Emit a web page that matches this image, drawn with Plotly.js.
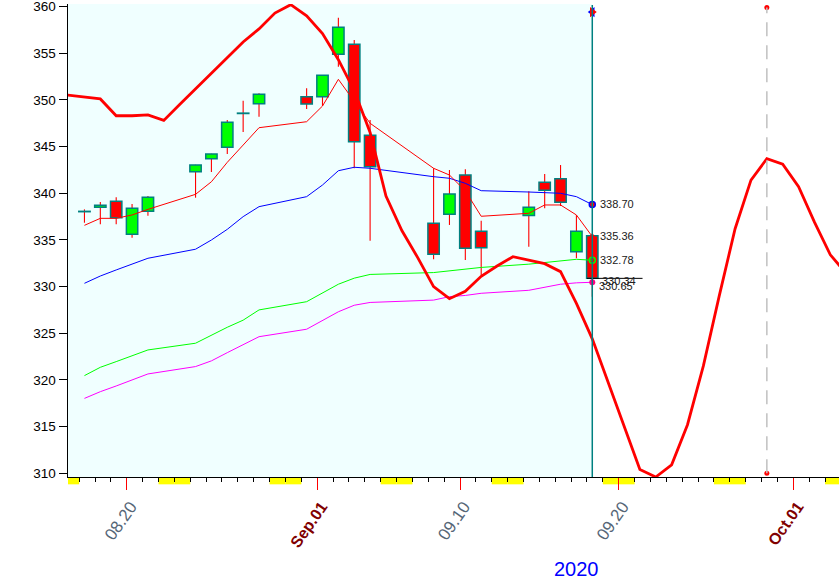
<!DOCTYPE html>
<html><head><meta charset="utf-8">
<script src="https://cdn.plot.ly/plotly-3.0.1.min.js"></script>
<style>html,body{margin:0;padding:0;background:#fff}#chart{width:839px;height:580px}</style>
</head><body><div id="chart"></div>
<script>
// ---- data ----
const tradeDates = ['2020-08-17','2020-08-18','2020-08-19','2020-08-20','2020-08-21','2020-08-24','2020-08-25','2020-08-26','2020-08-27','2020-08-28','2020-08-31','2020-09-01','2020-09-02','2020-09-03','2020-09-04','2020-09-08','2020-09-09','2020-09-10','2020-09-11','2020-09-14','2020-09-15','2020-09-16','2020-09-17','2020-09-18'];
const opens  = [338.06,338.49,339.13,335.60,338.06,342.30,343.70,344.92,348.58,349.59,350.34,350.34,354.88,355.95,346.20,336.78,337.74,341.95,335.92,337.60,341.17,341.56,333.73,335.45];
const highs  = [338.27,339.06,339.56,338.85,339.70,343.05,344.22,347.84,349.91,350.70,351.24,352.65,358.80,356.41,347.84,342.67,342.49,342.56,337.06,340.20,342.06,343.02,337.67,335.60];
const lows   = [336.84,336.67,336.67,335.24,337.59,339.52,342.27,344.20,346.56,348.20,349.02,349.34,353.55,342.67,334.91,332.92,336.60,332.85,331.24,334.27,338.38,338.63,333.03,328.90];
const closes = [338.02,338.70,337.38,338.38,339.56,343.02,344.20,347.60,348.54,350.60,349.56,352.63,357.77,345.52,342.84,333.46,339.92,334.10,334.16,338.49,340.31,339.03,335.92,330.88];
const maRed     = [336.56,337.31,337.31,337.67,338.27,339.88,341.23,343.31,345.16,347.02,347.66,349.34,352.20,349.85,347.49,342.67,341.95,340.25,337.53,337.85,338.74,338.74,337.67,335.36];
const maBlue    = [330.35,331.13,331.78,332.42,333.03,334.00,334.99,336.13,337.49,338.56,339.63,340.88,342.41,342.78,342.67,341.77,341.60,341.06,340.27,340.13,340.06,339.99,339.63,338.78];
const maGreen   = [320.46,321.35,321.96,322.60,323.21,323.93,324.81,325.64,326.40,327.50,328.38,329.30,330.25,330.90,331.30,331.50,331.70,331.85,332.05,332.40,332.60,332.80,332.92,332.82];
const maMagenta = [318.02,318.74,319.35,320.00,320.64,321.43,322.04,322.92,323.74,324.63,325.43,326.40,327.30,328.00,328.30,328.55,328.92,329.05,329.28,329.60,329.95,330.25,330.40,330.46];
const cycleStart = '2020-08-15';
const cycleValues = [350.7,350.5,350.3,350.1,348.3,348.3,348.4,347.8,349.5,351.2,352.9,354.6,356.2,357.6,359.3,360.2,359.0,
  357.1,354.3,351.0,346.5,339.7,336.0,333.1,330.0,328.7,329.5,331.1,332.2,333.2,332.85,332.45,331.6,328.2,324.4,319.7,315.2,310.4,309.6,310.9,315.2,321.5,329.0,336.2,341.4,343.7,343.1,
  340.7,336.9,333.4,331.4];
const endLabels = ['338.70','335.36','332.78','330.34','330.65'];
const endLabelShift = [1, 1, 1, 2, -5];
const endLabelXShift = [6, 6, 6, 8, 5];
const tickDates  = ['2020-08-20','2020-09-01','2020-09-10','2020-09-20','2020-10-01'];
const tickLabels = ['08.20','Sep.01','09.10','09.20','Oct.01'];
const monthStart = [false,true,false,false,true];
const yearLabel = '2020';
const currentDate = '2020-09-18';
const cycleTopDate = '2020-09-29';
const xStart = '2020-08-16 07:07:00', xEnd = '2020-10-03 21:07:00';
const yMin = 309.6, yMax = 360.27;

// ---- helpers ----
const DAY = 86400000, OFF = DAY/3;
const toMs = d => Date.parse(d + 'T00:00:00Z');
const fmt = ms => new Date(ms).toISOString().slice(0,19).replace('T',' ');
const cx = tradeDates.map(d => fmt(toMs(d) + OFF));
const cycleX = cycleValues.map((v,i) => fmt(toMs(cycleStart) + i*DAY + OFF));
const curX = fmt(toMs(currentDate) + OFF);
const topX = fmt(toMs(cycleTopDate) + OFF);
const last = tradeDates.length - 1;
const FONT = 'Liberation Sans, Arial, sans-serif';

const traces = [];
// wicks
traces.push({type:'bar', x:cx, y:highs.map((h,i)=>h-lows[i]), base:lows, width:0.07*DAY,
  marker:{color:'#ff0000', line:{width:0}}, hoverinfo:'skip', showlegend:false});
// bodies
traces.push({type:'bar', x:cx, y:closes.map((c,i)=>Math.abs(c-opens[i])), base:closes.map((c,i)=>Math.min(c,opens[i])),
  width:0.715*DAY, marker:{color:closes.map((c,i)=> c>=opens[i] ? '#00ff00' : '#ff0000'), line:{color:'#008080', width:1.5}},
  hoverinfo:'skip', showlegend:false});
const line = (y, color, w) => ({type:'scatter', mode:'lines', x:cx, y:y, line:{color:color, width:w}, hoverinfo:'skip', showlegend:false});
traces.push(line(maMagenta, '#ff00ff', 1));
traces.push(line(maGreen, '#00ff00', 1));
traces.push(line(maBlue, '#0000ff', 1));
traces.push(line(maRed, '#ff0000', 1));
traces.push({type:'scatter', mode:'lines', x:cycleX, y:cycleValues, line:{color:'#ff0000', width:2.8}, hoverinfo:'skip', showlegend:false});
// last close line
traces.push({type:'scatter', mode:'lines', x:[fmt(toMs(currentDate)), fmt(toMs(currentDate)+3.5*DAY)], y:[closes[last], closes[last]],
  line:{color:'#000', width:1}, hoverinfo:'skip', showlegend:false, cliponaxis:false});
// end markers
const mk = (y, sym, size, color, lc, lw) => ({type:'scatter', mode:'markers', x:[curX], y:[y], marker:{symbol:sym, size:size, color:color, line:{color:lc, width:lw}}, hoverinfo:'skip', showlegend:false, cliponaxis:false});
traces.push(mk(maBlue[last], 'circle', 6, '#ff0000', '#0000ff', 1.5));
traces.push(mk(maRed[last], 'triangle-up', 7, '#ff0000', '#ff0000', 0));
traces.push(mk(maGreen[last], 'circle-open', 6, '#00ff00', '#00ff00', 1.5));
traces.push(mk(maMagenta[last], 'circle', 6, '#ff0080', '#ff0080', 0));
// top marker on the current-date line
traces.push({type:'scatter', mode:'markers', x:[curX, curX], y:[359.4, 359.4], marker:{symbol:['triangle-left','triangle-right'], size:9, color:['#0000ff','#ff0000'], line:{width:0}}, hoverinfo:'skip', showlegend:false, cliponaxis:false});
// dashed cycle-top line end dots
traces.push({type:'scatter', mode:'markers', x:[topX, topX], y:[359.9, 310.0], marker:{size:5, color:'#ff0000'}, hoverinfo:'skip', showlegend:false, cliponaxis:false});

const shapes = [];
shapes.push({type:'rect', layer:'below', xref:'x', yref:'paper', x0:xStart, x1:curX, y0:0, y1:1, fillcolor:'#f0ffff', line:{width:0}});
for (let t = toMs('2020-08-15'); t <= toMs('2020-10-04'); t += DAY) {
  const wd = new Date(t).getUTCDay();
  if (wd === 0 || wd === 6) shapes.push({type:'rect', layer:'below', xref:'x', yref:'paper', x0:fmt(t), x1:fmt(t+DAY), y0:-0.0155, y1:0, fillcolor:'#ffff00', line:{width:0}});
}
shapes.push({type:'line', xref:'x', yref:'paper', x0:curX, x1:curX, y0:0, y1:0.998, line:{color:'#008080', width:1.5}});
shapes.push({type:'line', xref:'x', yref:'y', x0:topX, x1:topX, y0:310.0, y1:359.9, line:{color:'#c0c0c0', width:1.5, dash:'14px,9px'}});

const annotations = endLabels.map((t,i) => ({xref:'x', yref:'y', x:curX, y:parseFloat(t), text:t, showarrow:false, xanchor:'left', yanchor:'middle', xshift:endLabelXShift[i], yshift:endLabelShift[i], font:{family:FONT, size:11, color:'#202020'}}));
annotations.push({xref:'paper', yref:'paper', x:0.6595, y:-0.1945, text:yearLabel, showarrow:false, xanchor:'center', yanchor:'middle', font:{family:FONT, size:20, color:'#0000ff'}});

const layout = {
  width:839, height:580, margin:{l:68, r:0, t:4, b:103, pad:0},
  paper_bgcolor:'#ffffff', plot_bgcolor:'#ffffff', showlegend:false, hovermode:false, barmode:'overlay',
  xaxis:{type:'date', range:[xStart, xEnd], showgrid:false, zeroline:false, showline:true, linecolor:'#000', linewidth:1,
    ticks:'outside', ticklen:12, tickcolor:'#ff0000', tickwidth:1, tickmode:'array', tickvals:tickDates,
    ticktext:tickLabels.map((t,i)=> monthStart[i] ? '<b><span style="color:#800000;font-size:16px">'+t+'</span></b>' : t),
    tickangle:-55, ticklabelstandoff:0, ticklabelshift:4, tickfont:{family:FONT, size:17, color:'#556677'},
    minor:{ticks:'outside', ticklen:4, tickcolor:'#000', tickwidth:1, dtick:DAY, tick0:'2020-08-15', showgrid:false}},
  yaxis:{range:[yMin, yMax], tick0:310, dtick:5, showgrid:false, zeroline:false, showline:true, linecolor:'#000', linewidth:1.5,
    ticks:'outside', ticklen:8, tickcolor:'#000', tickwidth:1, ticklabeloverflow:'allow', tickfont:{family:FONT, size:13.5, color:'#000'}},
  shapes:shapes, annotations:annotations
};
Plotly.newPlot('chart', traces, layout, {staticPlot:true, displayModeBar:false});
</script></body></html>
